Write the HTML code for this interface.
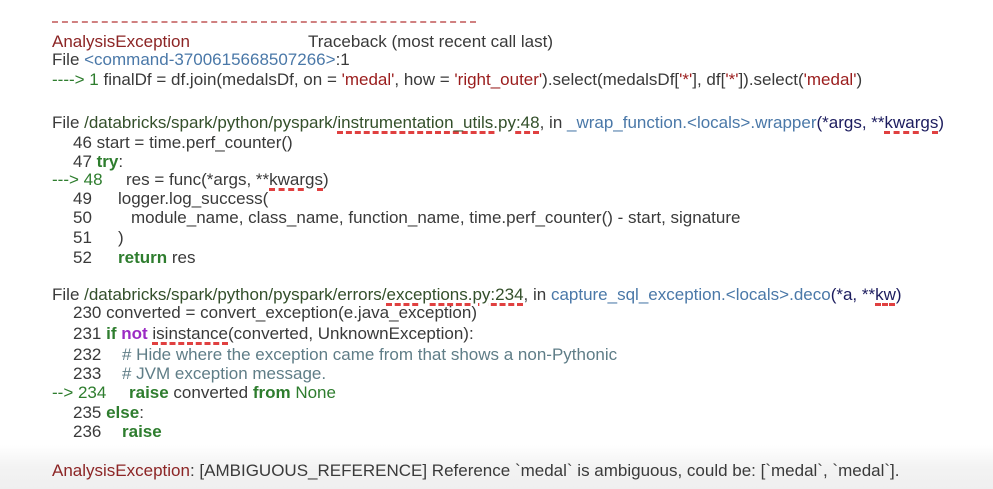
<!DOCTYPE html>
<html><head><meta charset="utf-8"><style>
html,body{margin:0;padding:0}
body{width:993px;height:489px;position:relative;overflow:hidden;background:#fff;font-family:"Liberation Sans",Arial,sans-serif;font-size:17px;color:#3a3a3a}
.bot{position:absolute;left:0;right:0;top:445px;bottom:0;background:linear-gradient(#fff,#f3f3f3 50%,#efefef)}
.l{position:absolute;white-space:pre;line-height:18px;height:18px}
.r{color:#8c2525}.b{color:#4a78a8}.g{color:#2e7d2e}.gb{color:#2e7d2e;font-weight:bold}
.s{color:#9a1c1c}.n{color:#1c1c5e}.p{color:#9b2bc4;font-weight:bold}.c{color:#5f7d87}.pa{color:#334f2a}
.u{text-decoration:underline dashed #e04040;text-decoration-thickness:3px;text-underline-offset:3px}
.dash{position:absolute;left:52px;top:21px;width:424px;height:0;border-top:2px dashed #d08080}
</style></head><body>
<div class="bot"></div>
<div class="dash"></div>
<div class="l r" style="left:52px;top:33px">AnalysisException</div>
<div class="l" style="left:308px;top:33px">Traceback (most recent call last)</div>
<div class="l" style="left:52px;top:51px">File <span class="b">&lt;command-3700615668507266&gt;</span>:1</div>
<div class="l" style="left:52px;top:71px"><span class="g">----&gt; 1</span> finalDf = df.join(medalsDf, on = <span class="s">'medal'</span>, how = <span class="s">'right_outer'</span>).select(medalsDf[<span class="s">'*'</span>], df[<span class="s">'*'</span>]).select(<span class="s">'medal'</span>)</div>

<div class="l" style="left:52px;top:114px">File <span class="pa">/databricks/spark/python/pyspark/<span class="u">instrumentation_utils.py:48</span></span>, in <span class="b">_wrap_function.&lt;locals&gt;.wrapper</span><span class="n">(*args, **<span class="u">kwargs</span>)</span></div>
<div class="l" style="left:73px;top:134px">46 start = time.perf_counter()</div>
<div class="l" style="left:73px;top:153px">47 <span class="gb">try</span>:</div>
<div class="l g" style="left:52px;top:171px">---&gt; 48</div>
<div class="l" style="left:126px;top:171px">res = func(*args, **<span class="u">kwargs</span>)</div>
<div class="l" style="left:73px;top:190px">49</div><div class="l" style="left:118px;top:190px">logger.log_success(</div>
<div class="l" style="left:73px;top:209px">50</div><div class="l" style="left:131px;top:209px">module_name, class_name, function_name, time.perf_counter() - start, signature</div>
<div class="l" style="left:73px;top:229px">51</div><div class="l" style="left:118px;top:229px">)</div>
<div class="l" style="left:73px;top:249px">52</div><div class="l" style="left:118px;top:249px"><span class="gb">return</span> res</div>

<div class="l" style="left:52px;top:286px">File <span class="pa">/databricks/spark/python/pyspark/errors/<span class="u">exceptions.py:234</span></span>, in <span class="b">capture_sql_exception.&lt;locals&gt;.deco</span><span class="n">(*a, **<span class="u">kw</span>)</span></div>
<div class="l" style="left:73px;top:304px">230 converted = convert_exception(e.java_exception)</div>
<div class="l" style="left:73px;top:325px">231 <span class="gb">if</span> <span class="p">not</span> <span class="u">isinstance</span>(converted, UnknownException):</div>
<div class="l" style="left:73px;top:346px">232</div><div class="l c" style="left:122px;top:346px"># Hide where the exception came from that shows a non-Pythonic</div>
<div class="l" style="left:73px;top:365px">233</div><div class="l c" style="left:122px;top:365px"># JVM exception message.</div>
<div class="l g" style="left:52px;top:384px">--&gt; 234</div><div class="l" style="left:129px;top:384px"><span class="gb">raise</span> converted <span class="gb">from</span> <span class="g">None</span></div>
<div class="l" style="left:73px;top:404px">235 <span class="gb">else</span>:</div>
<div class="l" style="left:73px;top:423px">236</div><div class="l" style="left:122px;top:423px"><span class="gb">raise</span></div>

<div class="l" style="left:52px;top:462px"><span class="r">AnalysisException</span>: [AMBIGUOUS_REFERENCE] Reference `medal` is ambiguous, could be: [`medal`, `medal`].</div>
</body></html>
